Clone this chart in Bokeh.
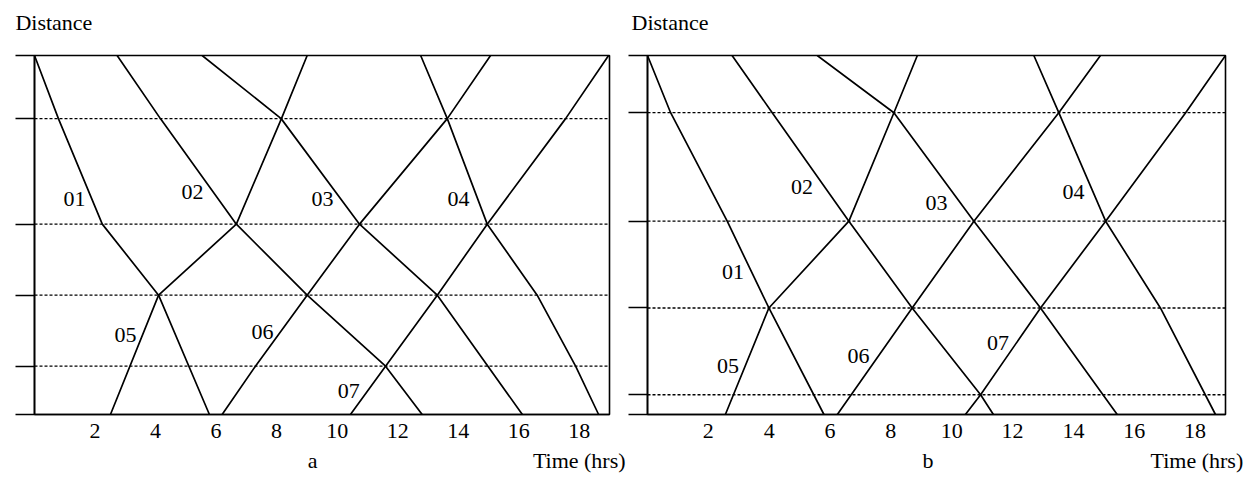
from bokeh.plotting import figure
from bokeh.models import Range1d, FixedTicker, LinearAxis
from bokeh.core.properties import value
from bokeh.layouts import row
from bokeh.embed import file_html
from bokeh.resources import INLINE

FONT = "Liberation Serif"

# ---------------- data ----------------
x_ticks = [2, 4, 6, 8, 10, 12, 14, 16, 18]
train_ids = ["01", "02", "03", "04", "05", "06", "07"]

# panel a : station positions (distance) and train paths (time hrs, distance)
a_stations = [0, 49, 121, 193, 300, 364]
a_t01 = [0.0, 0.79, 2.24, 4.10, 5.78]
a_d01 = [364, 300, 193, 121, 0]
a_t02 = [2.73, 4.16, 6.67, 9.01, 11.60, 12.81]
a_d02 = [364, 300, 193, 121, 49, 0]
a_t03 = [5.54, 8.15, 10.74, 13.31, 16.12]
a_d03 = [364, 300, 193, 121, 0]
a_t04 = [12.76, 13.64, 14.96, 16.61, 17.88, 18.64]
a_d04 = [364, 300, 193, 121, 49, 0]
a_t05 = [2.51, 4.10, 6.67, 8.16, 9.01]
a_d05 = [0, 121, 193, 300, 364]
a_t06 = [6.20, 7.30, 9.01, 10.74, 13.64, 15.07]
a_d06 = [0, 49, 121, 193, 300, 364]
a_t07 = [10.44, 11.60, 13.31, 14.96, 17.55, 18.97]
a_d07 = [0, 49, 121, 193, 300, 364]

# panel b
b_stations = [0, 20, 108, 196, 306, 364]
b_t01 = [0.0, 0.76, 2.62, 3.99, 5.80]
b_d01 = [364, 306, 196, 108, 0]
b_t02 = [2.78, 4.10, 6.62, 8.70, 10.95, 11.37]
b_d02 = [364, 306, 196, 108, 20, 0]
b_t03 = [5.58, 8.10, 10.73, 12.92, 15.44]
b_d03 = [364, 306, 196, 108, 0]
b_t04 = [12.70, 13.52, 15.06, 16.86, 18.67]
b_d04 = [364, 306, 196, 108, 0]
b_t05 = [2.56, 3.99, 6.62, 8.10, 8.87]
b_d05 = [0, 108, 196, 306, 364]
b_t06 = [6.24, 8.70, 10.73, 13.52, 14.89]
b_d06 = [0, 108, 196, 306, 364]
b_t07 = [10.45, 10.95, 12.92, 15.06, 17.69, 19.0]
b_d07 = [0, 20, 108, 196, 306, 364]

a_times = [a_t01, a_t02, a_t03, a_t04, a_t05, a_t06, a_t07]
a_dists = [a_d01, a_d02, a_d03, a_d04, a_d05, a_d06, a_d07]
b_times = [b_t01, b_t02, b_t03, b_t04, b_t05, b_t06, b_t07]
b_dists = [b_d01, b_d02, b_d03, b_d04, b_d05, b_d06, b_d07]

# ---------------- layout (positions of texts, in axis units) ----------------
a_label_x = [1.32, 5.22, 9.52, 14.01, 3.01, 7.53, 10.38]
a_label_y = [219, 226, 218, 219, 81, 84, 24]
b_label_x = [2.81, 5.08, 9.50, 14.00, 2.65, 6.94, 11.52]
b_label_y = [144, 231, 214, 226, 49, 59, 73]

FS = "22px"


def text_axis(ticks, labels, standoff):
    ax = LinearAxis(ticker=FixedTicker(ticks=ticks),
                    major_label_overrides=dict(zip(ticks, labels)))
    ax.axis_line_color = None
    ax.major_tick_line_color = None
    ax.minor_tick_line_color = None
    ax.major_label_text_font = FONT
    ax.major_label_text_font_size = FS
    ax.major_label_text_color = "black"
    ax.major_label_standoff = standoff
    return ax


def panel(stations, times, dists, lab_x, lab_y, letter, width, borders,
          dist_x, letter_x, time_x):
    bl, br, bt, bb = borders
    p = figure(width=width, height=480, output_backend="svg",
               toolbar_location=None,
               x_range=Range1d(0, 19), y_range=Range1d(0, 364),
               min_border_left=bl, min_border_right=br,
               min_border_top=bt, min_border_bottom=bb)
    p.title.visible = False
    p.xgrid.visible = False
    p.ygrid.visible = False
    p.outline_line_color = "black"
    p.outline_line_width = 1.6
    p.outline_line_alpha = 1.0
    p.background_fill_color = "white"
    p.border_fill_color = "white"

    xa = p.xaxis[0]
    xa.ticker = FixedTicker(ticks=x_ticks)
    xa.major_tick_out = 0
    xa.major_tick_in = 0
    xa.minor_tick_out = 0
    xa.minor_tick_in = 0
    xa.axis_line_width = 1.6
    xa.axis_line_color = "black"
    xa.major_label_text_font = FONT
    xa.major_label_text_font_size = FS
    xa.major_label_text_color = "black"
    xa.major_label_standoff = 9

    # caption line below the numbers: panel letter and time label
    p.add_layout(text_axis([letter_x, time_x], [letter, "Time (hrs)"], 1),
                 "below")
    # "Distance" heading above the frame
    p.add_layout(text_axis([dist_x], ["Distance"], 15), "above")

    ya = p.yaxis[0]
    ya.ticker = FixedTicker(ticks=stations)
    ya.major_label_overrides = {s: "" for s in stations}
    ya.major_tick_out = 19
    ya.major_tick_in = 0
    ya.minor_tick_out = 0
    ya.minor_tick_in = 0
    ya.major_tick_line_width = 1.6
    ya.major_tick_line_color = "black"
    ya.axis_line_width = 1.6
    ya.axis_line_color = "black"
    ya.major_label_standoff = 0

    inner = stations[1:-1]
    p.segment(x0=[0] * len(inner), y0=inner, x1=[19] * len(inner), y1=inner,
              line_color="black", line_width=1.3, line_dash="3 2")

    p.multi_line(xs=times, ys=dists, line_color="black", line_width=1.7)

    p.text(x=lab_x, y=lab_y, text=train_ids, text_font=value(FONT),
           text_font_size=FS, text_align="center", text_baseline="middle",
           text_color="black")
    return p


pa = panel(a_stations, a_times, a_dists, a_label_x, a_label_y, "a", 627,
           (34, 18, 50, 66), 0.64, 9.19, 18.0)
pb = panel(b_stations, b_times, b_dists, b_label_x, b_label_y, "b", 625,
           (20, 27, 55, 61), 0.74, 9.22, 18.06)

layout = row(pa, pb)
open("out.html", "w").write(file_html(layout, INLINE))
